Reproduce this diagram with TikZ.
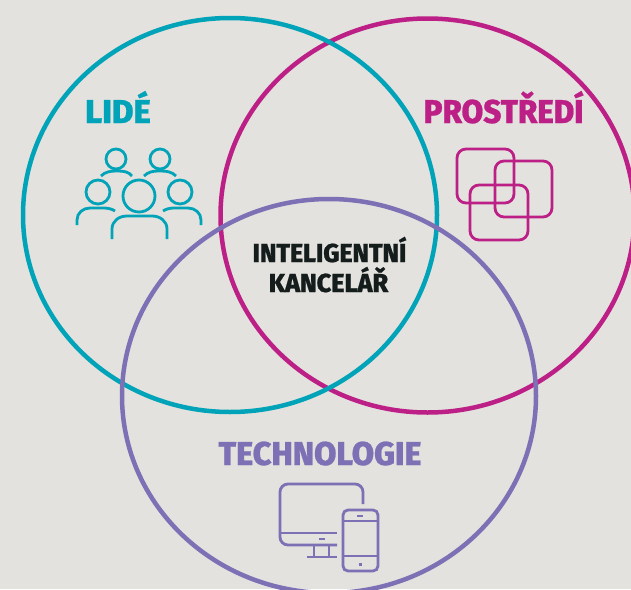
\documentclass[tikz,border=0pt]{standalone}
\usepackage{fontspec}
\setmainfont{Fira Sans}[UprightFont=* ExtraBold,BoldFont=* ExtraBold,FakeBold=0.7]
\definecolor{bgc}{HTML}{E3E2DE}
\definecolor{teal1}{HTML}{00A3B8}
\definecolor{mag1}{HTML}{BC1F85}
\definecolor{pur1}{HTML}{7E70B5}
\definecolor{ink1}{HTML}{141C1C}
\tikzset{
  ring/.style={draw=#1,line width=4.5pt},
  iconline/.style={draw=#1,line width=2.8pt},
  headline/.style={font=\fontsize{33}{33}\selectfont,text=#1,anchor=base,inner sep=0pt,outer sep=0pt},
  centerline/.style={font=\fontsize{26}{26}\selectfont,text=ink1,anchor=base,inner sep=0pt,outer sep=0pt}
}
\begin{document}
\begin{tikzpicture}[x=1pt,y=-1pt]
\fill[bgc] (0,0) rectangle (631,589);
\useasboundingbox (0,0) rectangle (631,589);
\clip (0,0) rectangle (631,589);
\draw[ring=mag1] (427.5,215.5) ellipse [x radius=207,y radius=197];
\draw[ring=teal1] (230,215) ellipse [x radius=207,y radius=197];
\draw[ring=pur1] (329,396) ellipse [x radius=207,y radius=197];
% labels
\node[headline=teal1] (lide) at (118,123) {\scalebox{1.0}[1]{LIDÉ}};
\node[headline=mag1] (prostredi) at (503.5,123) {\scalebox{0.95}[1]{PROSTŘEDÍ}};
\node[headline=pur1] (technologie) at (320,465) {\scalebox{0.98}[1]{TECHNOLOGIE}};
\node[centerline] (intel) at (329.5,262) {\scalebox{0.96}[1]{INTELIGENTNÍ}};
\node[centerline] (kancelar) at (328.5,292) {\scalebox{0.97}[1]{KANCELÁŘ}};
% people
\draw[iconline=teal1] (116,159) circle (10);
\draw[iconline=teal1] (160,159) circle (10);
\draw[iconline=teal1] (98,192) circle (12);
\draw[iconline=teal1] (139,196) circle (16);
\draw[iconline=teal1] (180,192) circle (12);
\draw[iconline=teal1] (101,176) .. controls (105,172) and (110,171) .. (116,171) -- (118,171) .. controls (124,171) and (129,172) .. (132,176);
\draw[iconline=teal1] (144,176) .. controls (148,172) and (153,171) .. (158,171) -- (161,171) .. controls (167,171) and (172,172) .. (176,176);
\draw[iconline=teal1] (77,225) -- (77,220) .. controls (77,213) and (83,208) .. (90,208) -- (104,208) .. controls (108,208) and (112,209) .. (115,211);
\draw[iconline=teal1] (201,225) -- (201,220) .. controls (201,213) and (195,208) .. (188,208) -- (174,208) .. controls (170,208) and (166,209) .. (163,211);
\draw[iconline=teal1] (112,239) -- (112,229) .. controls (112,221) and (119,216) .. (127,216) -- (152,216) .. controls (160,216) and (167,221) .. (167,229) -- (167,239);
% overlapping squares
\draw[iconline=mag1,rounded corners=9pt] (457,149) rectangle (514,203);
\draw[iconline=mag1,rounded corners=9pt] (495,161) rectangle (552,217);
\draw[iconline=mag1,rounded corners=9pt] (470,185) rectangle (528,240);
% devices
\draw[iconline=pur1,rounded corners=8pt] (363,504) -- (363,484) -- (280,484) -- (280,545) -- (337,545);
\draw[iconline=pur1] (280,533) -- (337,533);
\draw[iconline=pur1] (319,539) -- (325,539);
\draw[iconline=pur1] (314,545) -- (314,557);
\draw[iconline=pur1] (329,545) -- (329,557);
\draw[iconline=pur1] (307,557) -- (337,557);
\draw[iconline=pur1,rounded corners=5pt] (343,510) rectangle (378,571);
\draw[iconline=pur1] (343,521) -- (378,521);
\draw[iconline=pur1] (343,556) -- (378,556);
\draw[iconline=pur1] (357,516) -- (363,516);
\fill[pur1] (359,563) rectangle (361.5,565.5);
\end{tikzpicture}
\end{document}
